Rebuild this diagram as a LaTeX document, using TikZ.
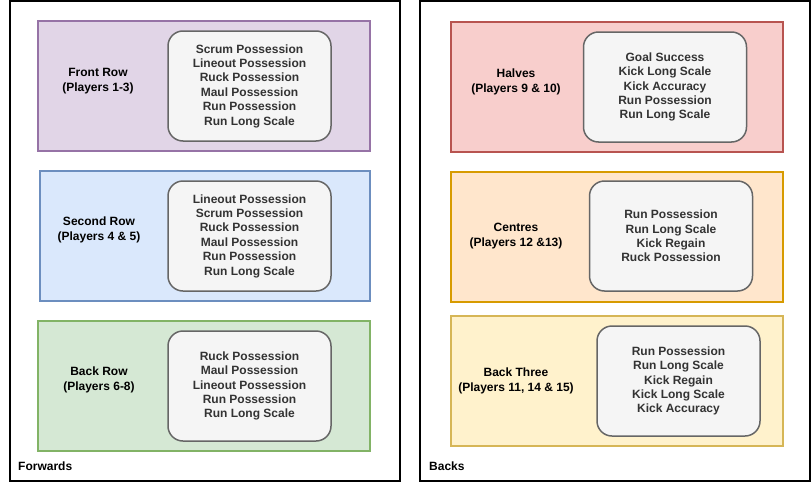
\documentclass[tikz,border=0pt]{standalone}
\usepackage{fontspec}
\setmainfont{Liberation Sans}
\definecolor{purplefill}{HTML}{E1D5E7}
\definecolor{purpleline}{HTML}{9673A6}
\definecolor{bluefill}{HTML}{DAE8FC}
\definecolor{blueline}{HTML}{6C8EBF}
\definecolor{greenfill}{HTML}{D5E8D4}
\definecolor{greenline}{HTML}{82B366}
\definecolor{redfill}{HTML}{F8CECC}
\definecolor{redline}{HTML}{B85450}
\definecolor{orangefill}{HTML}{FFE6CC}
\definecolor{orangeline}{HTML}{D79B00}
\definecolor{yellowfill}{HTML}{FFF2CC}
\definecolor{yellowline}{HTML}{D6B656}
\definecolor{statfill}{HTML}{F5F5F5}
\definecolor{statline}{HTML}{666666}
\definecolor{stattext}{HTML}{333333}

\begin{document}
\begin{tikzpicture}[x=1pt, y=-1pt,
    font=\fontsize{12}{14.4}\selectfont\bfseries,
    frame/.style={draw=black, line width=1.5pt, minimum width=390pt, minimum height=480pt, inner sep=0pt},
    group/.style args={#1/#2}{draw=#1, fill=#2, line width=1.5pt, minimum width=332pt, minimum height=130pt, inner sep=0pt},
    stats/.style={draw=statline, fill=statfill, text=stattext, line width=1.5pt, rounded corners=15pt, minimum width=163pt, minimum height=110pt, inner sep=0pt, align=center},
    label/.style={align=center, inner sep=0pt}]
    \useasboundingbox (0, 0) rectangle (811, 482);
    % Outer frames
    \node[frame] (Forwards) at (205, 241) {};
    \node[frame] (Backs) at (615, 241) {};
    \node[anchor=west, inner sep=0pt] (Forwards-Title) at (18, 466) {Forwards};
    \node[anchor=west, inner sep=0pt] (Backs-Title) at (429, 466) {Backs};
    % Forwards
    \node[group=purpleline/purplefill] (Front-Row) at (204, 86) {};
    \node[group=blueline/bluefill, minimum width=330pt] (Second-Row) at (205, 236) {};
    \node[group=greenline/greenfill] (Back-Row) at (204, 386) {};
    \node[label] (Front-Row-Label) at (98, 81) {Front Row\\(Players 1-3)};
    \node[label] (Second-Row-Label) at (99, 230) {Second Row\\(Players 4 \& 5)};
    \node[label] (Back-Row-Label) at (99, 380) {Back Row\\(Players 6-8)};
    \node[stats] (Front-Row-Stats) at (249.5, 86) {Scrum Possession\\Lineout Possession\\Ruck Possession\\Maul Possession\\Run Possession\\Run Long Scale};
    \node[stats] (Second-Row-Stats) at (249.5, 236) {Lineout Possession\\Scrum Possession\\Ruck Possession\\Maul Possession\\Run Possession\\Run Long Scale};
    \node[stats] (Back-Row-Stats) at (249.5, 386) {Ruck Possession\\Maul Possession\\Lineout Possession\\Run Possession\\Run Long Scale};
    % Backs
    \node[group=redline/redfill] (Halves) at (617, 87) {};
    \node[group=orangeline/orangefill] (Centres) at (617, 237) {};
    \node[group=yellowline/yellowfill] (Back-Three) at (617, 381) {};
    \node[label] (Halves-Label) at (516, 82) {Halves\\(Players 9 \& 10)};
    \node[label] (Centres-Label) at (516, 236) {Centres\\(Players 12 \&13)};
    \node[label] (Back-Three-Label) at (516, 381) {Back Three\\(Players 11, 14 \& 15)};
    \node[stats] (Halves-Stats) at (665, 87) {Goal Success\\Kick Long Scale\\Kick Accuracy\\Run Possession\\Run Long Scale};
    \node[stats] (Centres-Stats) at (671, 236) {Run Possession\\Run Long Scale\\Kick Regain\\Ruck Possession};
    \node[stats] (Back-Three-Stats) at (678.5, 381) {Run Possession\\Run Long Scale\\Kick Regain\\Kick Long Scale\\Kick Accuracy};
\end{tikzpicture}
\end{document}
